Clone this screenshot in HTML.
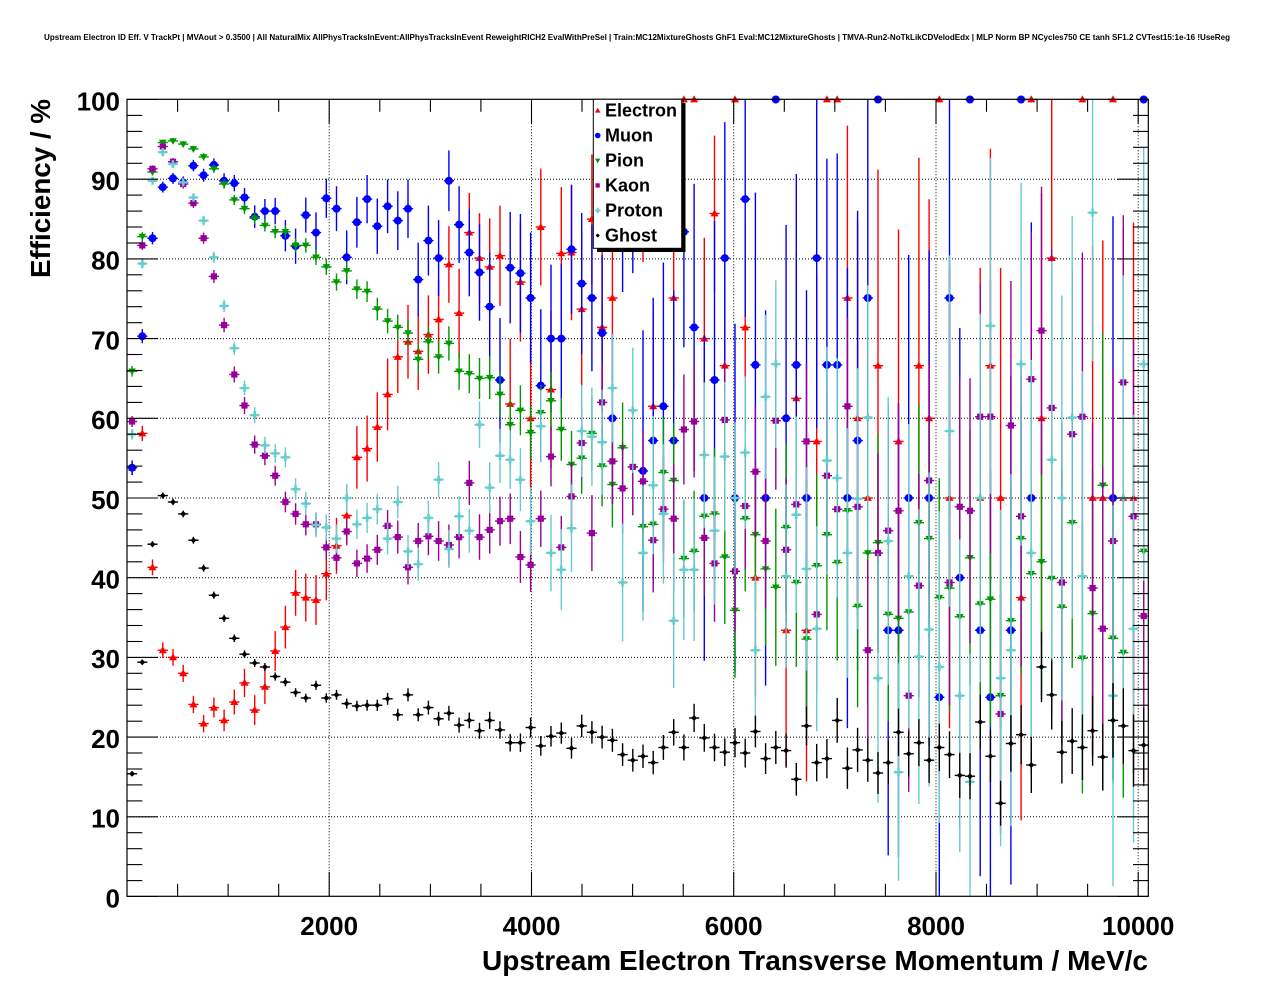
<!DOCTYPE html>
<html><head><meta charset="utf-8"><style>
html,body{margin:0;padding:0;background:#fff;}
svg{display:block;}
text{font-family:"Liberation Sans",Arial,sans-serif;font-weight:bold;fill:#000;}
</style></head><body>
<svg id="s" width="1276" height="996" viewBox="0 0 1276 996" xmlns="http://www.w3.org/2000/svg">
<rect x="0" y="0" width="1276" height="996" fill="#fff"/>
<text x="44" y="40" font-size="8" textLength="1186" lengthAdjust="spacingAndGlyphs">Upstream Electron ID Eff. V TrackPt | MVAout &gt; 0.3500 | All NaturalMix AllPhysTracksInEvent:AllPhysTracksInEvent ReweightRICH2 EvalWithPreSel | Train:MC12MixtureGhosts GhF1 Eval:MC12MixtureGhosts | TMVA-Run2-NoTkLikCDVelodEdx | MLP Norm BP NCycles750 CE tanh SF1.2 CVTest15:1e-16 !UseReg</text>
<g id="grid" stroke="#000" stroke-width="1" stroke-dasharray="1,2"></g>
<g id="data"></g>
<rect x="127" y="99.3" width="1021.3" height="797" fill="none" stroke="#000" stroke-width="1.2"/>
<g id="ticks" stroke="#000" stroke-width="1.1"></g>
<g id="legend">
<rect x="597" y="103" width="88.5" height="149" fill="#000"/>
<rect x="593.3" y="99.3" width="88.4" height="149" fill="#fff" stroke="#000" stroke-width="1"/>
<g id="legm"></g>
<text x="605" y="116.7" font-size="18">Electron</text>
<text x="605" y="141.7" font-size="18">Muon</text>
<text x="605" y="166.7" font-size="18">Pion</text>
<text x="605" y="191.7" font-size="18">Kaon</text>
<text x="605" y="216.7" font-size="18">Proton</text>
<text x="605" y="241.7" font-size="18">Ghost</text>
</g>
<g font-size="26" text-anchor="end">
<text x="120" y="110.5">100</text>
<text x="120" y="190">90</text>
<text x="120" y="269.7">80</text>
<text x="120" y="349.4">70</text>
<text x="120" y="429.1">60</text>
<text x="120" y="508.8">50</text>
<text x="120" y="588.5">40</text>
<text x="120" y="668.2">30</text>
<text x="120" y="747.9">20</text>
<text x="120" y="827.6">10</text>
<text x="120" y="907.3">0</text>
</g>
<g font-size="26" text-anchor="middle">
<text x="329.2" y="935">2000</text>
<text x="531.5" y="935">4000</text>
<text x="733.7" y="935">6000</text>
<text x="936" y="935">8000</text>
<text x="1138.2" y="935">10000</text>
</g>
<text x="482" y="970" font-size="28" textLength="666" lengthAdjust="spacingAndGlyphs">Upstream Electron Transverse Momentum / MeV/c</text>
<text transform="translate(50,278) rotate(-90)" x="0" y="0" font-size="28" textLength="179" lengthAdjust="spacingAndGlyphs">Efficiency / %</text>
</svg>
<script>
(function(){
var X0=127,BW=10.218,L=127,R=1148.3,T=99.3,B=896.3;
function X(i){return X0+(i+0.5)*BW;}
function Y(v){return 896.5-7.97*v;}
function f(n){return n.toFixed(1);}
var g='';
[2000,4000,6000,8000,10000].forEach(function(m){var x=L+m*0.10112;g+='<line x1="'+f(x)+'" y1="'+T+'" x2="'+f(x)+'" y2="'+B+'"/>';});
for(var v=10;v<100;v+=10){var y=Y(v);g+='<line x1="'+L+'" y1="'+f(y)+'" x2="'+R+'" y2="'+f(y)+'"/>';}
document.getElementById('grid').innerHTML=g;
var t='';
for(var v=0;v<=100;v+=2){var y=Y(v);var len=(v%10==0)?31:15.3;
 t+='<line x1="'+L+'" y1="'+f(y)+'" x2="'+f(L+len)+'" y2="'+f(y)+'"/>';
 t+='<line x1="'+R+'" y1="'+f(y)+'" x2="'+f(R-len)+'" y2="'+f(y)+'"/>';}
for(var m=500;m<=10000;m+=500){var x=L+m*0.10112;var len=(m%2000==0)?24.3:12.5;
 t+='<line x1="'+f(x)+'" y1="'+B+'" x2="'+f(x)+'" y2="'+f(B-len)+'"/>';
 t+='<line x1="'+f(x)+'" y1="'+T+'" x2="'+f(x)+'" y2="'+f(T+len)+'"/>';}
document.getElementById('ticks').innerHTML=t;
var N=null;
function mk(type,x,y,c,k){
 k=k||1;var s='';
 if(type=='tu'){var w=4*k,h=7*k;s='<polygon points="'+f(x)+','+f(y-h*0.58)+' '+f(x-w)+','+f(y+h*0.42)+' '+f(x+w)+','+f(y+h*0.42)+'" fill="'+c+'"/>';}
 else if(type=='td'){var w=3.8*k,h=6.6*k;s='<polygon points="'+f(x-w)+','+f(y-h*0.42)+' '+f(x+w)+','+f(y-h*0.42)+' '+f(x)+','+f(y+h*0.58)+'" fill="'+c+'"/>';}
 else if(type=='ci'){s='<circle cx="'+f(x)+'" cy="'+f(y)+'" r="'+f(4*k)+'" fill="'+c+'"/>';}
 else if(type=='sq'){var a=3.1*k;s='<rect x="'+f(x-a)+'" y="'+f(y-a)+'" width="'+f(2*a)+'" height="'+f(2*a)+'" fill="'+c+'"/>';}
 else if(type=='cr'){var a=4*k,b=1.25*k;s='<rect x="'+f(x-a)+'" y="'+f(y-b)+'" width="'+f(2*a)+'" height="'+f(2*b)+'" fill="'+c+'"/><rect x="'+f(x-b)+'" y="'+f(y-a)+'" width="'+f(2*b)+'" height="'+f(2*a)+'" fill="'+c+'"/>';}
 else if(type=='gh'){var a=3*k;s='<polygon points="'+f(x)+','+f(y-a)+' '+f(x+a)+','+f(y)+' '+f(x)+','+f(y+a)+' '+f(x-a)+','+f(y)+'" fill="'+c+'"/>';}
 return s;
}
function nAt(an,i){
 for(var k=0;k<an.length-1;k++){if(i<=an[k+1][0]){var i0=an[k][0],n0=an[k][1],i1=an[k+1][0],n1=an[k+1][1];var tt=(i-i0)/(i1-i0);return Math.exp(Math.log(n0)*(1-tt)+Math.log(n1)*tt);}}
 return an[an.length-1][1];
}
var S=[
{c:'#ff0000',m:'tu',n:[[0,3000],[7,1400],[14,340],[20,200],[25,115],[30,80],[40,25],[50,15],[60,12],[70,4],[80,3],[90,3],[99,2]],
d:[53.8,58.1,41.3,30.9,30.0,28.0,24.1,21.7,23.7,22.1,
24.4,26.8,23.4,26.3,30.8,33.8,38.1,37.5,37.2,40.5,
44,47.8,55.1,56.2,58.9,63.0,67.7,69.6,68.4,70.5,
72.4,79.3,73.2,83.3,80.1,79.0,80.4,61.8,77.1,60.0,
84.0,63.6,80.7,80.8,73.7,85.0,71.4,75.1,90,N,
88,61.5,N,75.1,100,100,70.0,85.7,66.6,100,
71.4,40.0,N,N,33.4,62.5,33.4,57.1,100,100,
75.1,60.0,50,66.6,N,57.1,N,66.6,60.0,100,
50,N,N,50,66.6,50,N,37.5,100,60,
80.1,N,N,100,50,50,100,50,50,N]},
{c:'#0000ff',m:'ci',n:[[0,3000],[10,900],[20,150],[30,70],[40,25],[47,21],[50,8],[56,6],[60,5],[70,3],[80,2.5],[90,2],[99,2]],
d:[53.8,70.3,82.6,89.0,90.1,89.6,91.7,90.5,91.8,89.8,
89.5,87.7,85.3,86.0,86.0,82.9,81.6,85.5,83.3,87.6,
86.3,80.2,84.6,87.5,84.1,86.6,84.8,86.3,77.4,82.3,
80.1,89.8,84.3,80.8,78.3,74.0,64.8,78.9,78.2,75.1,
64.1,70.0,70.0,81.2,76.9,75.1,70.7,60.0,85,88,
53.4,57.2,61.5,57.2,83.4,71.4,50.0,64.8,80.1,50.0,
87.5,66.7,50.0,100,60.0,66.7,50.0,80.1,66.7,66.7,
50,57.2,75.1,100,33.4,33.4,50,N,50,25.0,
75.1,40.0,100,33.4,25.0,N,33.4,100,50,N,
N,N,N,N,N,N,50,N,N,100]},
{c:'#009900',m:'td',n:[[0,5000],[20,1500],[30,500],[40,200],[50,60],[60,30],[70,15],[80,10],[90,8],[99,6]],
d:[65.9,82.8,90.9,94.6,94.8,94.4,93.8,92.8,91.3,89.4,
87.4,86.3,85.1,84.2,83.4,83.4,81.7,81.7,80.2,79.0,
77.1,78.5,76.2,75.9,73.7,72.2,71.4,70.7,67.4,69.6,
67.7,69.4,65.9,65.6,65.0,65.1,63.0,59.2,61.0,58.2,
60.7,62.2,58.6,54.2,55.0,58.1,54.0,51.7,56.3,53.9,
46.4,46.7,53.2,52.2,42.4,43.3,47.7,48.0,42.6,35.9,
47.4,45.4,41.1,38.8,46.3,39.4,32.3,41.5,45.4,41.9,
48.4,36.4,43.1,44.4,35.4,34.9,35.7,46.9,44.9,37.5,
38.7,35.1,42.5,36.7,37.3,25.2,34.6,44.9,40.5,42.0,
39.9,36.3,46.9,29.9,35.5,51.6,32.4,30.6,N,43.3]},
{c:'#990099',m:'sq',n:[[0,5000],[20,1000],[30,400],[40,200],[50,60],[60,40],[70,19],[80,10],[90,6],[99,5]],
d:[59.6,81.7,91.3,94.1,92.2,89.4,87.0,82.6,77.8,71.7,
65.5,61.6,56.7,55.3,52.8,49.5,48.0,46.7,46.7,43.8,
42.5,45.8,41.8,42.4,43.5,46.5,45.1,41.3,44.6,45.2,
44.6,44.1,45.1,51.9,45.1,46.0,47.1,47.4,42.6,41.6,
47.4,55.2,43.8,50.2,56.9,45.6,62.0,54.6,51.2,53.9,
52.1,44.7,48.6,47.4,58.6,59.6,45.0,41.8,59.8,40.8,
49.0,53.3,44.6,59.7,43.5,49.2,57.1,35.4,52.8,48.6,
61.5,48.9,30.9,43.1,45.9,48.4,25.2,39.0,52.2,N,
39.4,48.9,48.4,60.2,60.2,22.9,59.1,47.7,64.9,71.0,
61.3,39.4,58.0,60.2,38.7,33.6,44.6,64.5,47.7,35.2]},
{c:'#66cccc',m:'cr',n:[[0,5000],[10,3000],[20,800],[30,500],[40,120],[50,34],[60,27],[70,10],[80,5],[90,4],[99,3]],
d:[58.0,79.4,89.8,93.4,91.9,89.6,87.7,84.8,80.2,74.1,
68.8,63.8,60.4,56.6,55.6,55.1,51.1,49.3,46.6,46.3,
44.9,50.0,46.7,47.5,48.6,44.9,49.5,43.3,41.7,47.5,
52.3,43.6,47.7,45.9,59.2,51.3,55.3,54.8,52.3,47.1,
59.0,43.1,41.0,46.2,58.4,57.7,57.0,63.8,39.4,61.0,
43.1,51.6,48.0,34.6,41.0,41.0,55.4,45.9,55.2,50.0,
55.7,30.9,62.7,66.8,40.2,47.9,41.1,33.6,54.7,52.5,
43.1,49.9,60.1,27.4,44.6,15.6,40.2,30.1,33.5,28.8,
58.4,25.2,14.4,50,71.6,27.4,30.9,66.8,43.1,N,
54.8,50,60.1,40.2,85.8,N,25.2,50,33.6,66.8]},
{c:'#000000',m:'gh',n:[[0,20000],[20,5000],[40,1000],[60,450],[70,200],[80,170],[90,100],[99,70]],
d:[15.4,29.4,44.2,50.3,49.5,48.0,44.7,41.2,37.8,34.9,
32.4,30.4,29.3,28.8,27.6,26.9,25.6,24.9,26.5,24.9,
25.3,24.2,23.9,24.0,24.0,24.8,22.8,25.3,22.8,23.7,
22.3,23.0,21.5,22.1,20.8,22.1,20.9,19.3,19.3,21.2,
18.9,20.1,20.5,18.6,21.4,20.6,20.0,19.6,17.8,17.1,
17.6,16.8,18.7,20.6,18.7,22.4,19.9,18.7,18.1,19.3,
18.0,20.7,17.3,18.7,18.3,14.7,21.4,16.8,17.3,22.1,
16.1,18.4,17.1,15.5,16.8,20.6,17.9,19.3,17.1,18.7,
17.8,15.2,15.1,21.9,17.6,11.7,19.2,20.3,16.5,28.8,
25.3,18.1,19.5,18.7,20.8,17.5,22.1,21.4,18.3,19.0]}
];
var out='';
S.forEach(function(se){
 var lines='',marks='';
 for(var i=0;i<se.d.length;i++){
  var v=se.d[i]; if(v===null) continue;
  var x=X(i),y=Y(v),p=v/100;
  var e=100*Math.sqrt(Math.max(0,p*(1-p))/nAt(se.n,i));
  var y1=Y(Math.min(100,v+e)),y2=Y(Math.max(0,v-e));
  lines+='<line x1="'+f(x-5.1)+'" y1="'+f(y)+'" x2="'+f(x+5.1)+'" y2="'+f(y)+'"/>';
  if(y2-y1>0.8) lines+='<line x1="'+f(x)+'" y1="'+f(y1)+'" x2="'+f(x)+'" y2="'+f(y2)+'"/>';
  marks+=mk(se.m,x,y,se.c,1);
 }
 out+='<g stroke="'+se.c+'" stroke-width="1.4">'+lines+'</g>'+marks;
});
document.getElementById('data').innerHTML=out;
var lm='';
S.forEach(function(se,k){lm+=mk(se.m,597.7,110.5+25*k,se.c,0.7);});
document.getElementById('legm').innerHTML=lm;
})();
</script>
</body></html>
